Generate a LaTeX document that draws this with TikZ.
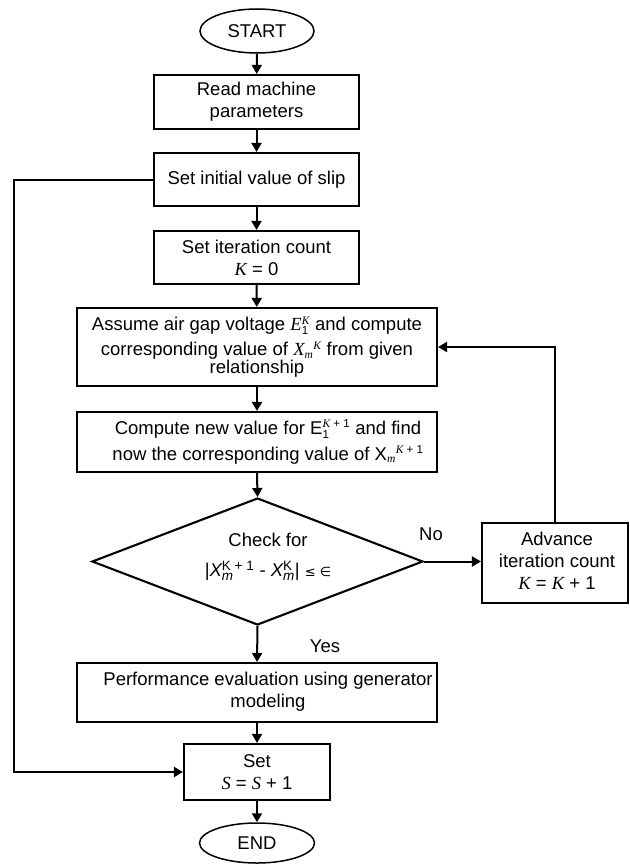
\documentclass[tikz,border=0pt]{standalone}
\usepackage{fontspec}
\setmainfont{Liberation Sans}
\newfontfamily\serf{Liberation Serif}
\newfontfamily\djv{DejaVu Sans}
\usetikzlibrary{shapes.geometric,arrows.meta}
\newcommand{\fsz}{\fontsize{18.5}{22}\selectfont}
\newcommand{\VarK}{{\serf\itshape K}}
\newcommand{\VarS}{{\serf\itshape S}}
\newcommand{\SmallT}[1]{\hbox{\fontsize{11.5}{12}\selectfont #1}}
\newcommand{\MidT}[1]{\hbox{\fontsize{13.5}{14}\selectfont #1}}
\newcommand{\SupSub}[2]{$^{\SmallT{#1}}_{\SmallT{#2}}$}
\newcommand{\SupSubM}[2]{$^{\MidT{#1}}_{\MidT{#2}}$}
\newcommand{\SubOnly}[1]{$_{\SmallT{#1}}$}
\newcommand{\SupOnly}[1]{$^{\SmallT{#1}}$}
\begin{document}
\begin{tikzpicture}[x=1pt,y=-1pt,
  box/.style={draw, rectangle, line width=2.1pt, inner sep=0pt, align=center, font=\fsz},
  term/.style={draw, ellipse, line width=1.5pt, inner sep=0pt, font=\fsz},
  txt/.style={align=center, font=\fsz, inner sep=0pt},
  arr/.style={line width=2pt, -{Triangle[length=9pt,width=10pt]}}]
\path[fill=white] (0,0) rectangle (629,864);
\useasboundingbox (0,0) rectangle (629,864);

\node[term, minimum width=114pt, minimum height=44pt] (start) at (257,31) {START};
\node[box, minimum width=205pt, minimum height=54pt] (read) at (256.5,102) {Read machine\\parameters};
\node[box, minimum width=205pt, minimum height=53pt] (slip) at (256.5,179.5) {Set initial value of slip};
\node[box, minimum width=205pt, minimum height=53pt] (iter) at (256.5,257.5) {Set iteration count\\\VarK{} = 0};
\node[box, minimum width=360pt, minimum height=78pt] (assume) at (257,347)
  {Assume air gap voltage {\serf\itshape E}\SupSub{\VarK}{1} and compute\\[3pt]
   corresponding value of {\serf\itshape X}\SubOnly{\serf\itshape m}\SupOnly{\VarK} from given\\[-4pt]
   relationship};
\node[box, minimum width=360pt, minimum height=60pt] (comp) at (257,442) {};
\node[txt] (comptxt) at (268,442)
  {Compute new value for E\SupSub{\VarK{} + 1}{1} and find\\[4pt]
   now the corresponding value of X\SubOnly{\serf\itshape m}\SupOnly{\VarK{} + 1}};
\node[draw, diamond, aspect=2.6, line width=2.1pt, inner sep=0pt,
      minimum width=331pt, minimum height=127pt] (dia) at (257.5,561.5) {};
\node[txt] (diatxt) at (268,557)
  {Check for\\[8pt]
   |{\itshape X}\SupSubM{K + 1}{\itshape m} - {\itshape X}\SupSubM{K}{\itshape m}| {\djv\fontsize{13}{13}\selectfont ≤ ∈}};
\node[box, minimum width=146pt, minimum height=80pt] (adv) at (555,563) {};
\node[txt] (advtxt) at (557,561) {Advance\\iteration count\\\VarK{} = \VarK{} + 1};
\node[box, minimum width=360pt, minimum height=59pt] (perf) at (257,692.5) {};
\node[txt] (perftxt) at (268,692) {Performance evaluation using generator\\modeling};
\node[box, minimum width=146pt, minimum height=56pt] (sets) at (257,772) {Set\\\VarS{} = \VarS{} + 1};
\node[term, minimum width=115pt, minimum height=40pt] (fin) at (257,843) {END};
\coordinate (lx) at (14,183);

\node[txt] (nolab) at (431,534) {No};
\node[txt] (yeslab) at (325,646) {Yes};

\draw[arr] (start) -- (read);
\draw[arr] (read) -- (slip);
\draw[arr] (slip) -- (iter);
\draw[arr] (iter) -- (assume);
\draw[arr] (assume) -- (comp);
\draw[arr] (comp.south) -- (dia.north);
\draw[arr] (dia.east) -- (dia.east -| adv.west);
\draw[arr] (adv.north) |- (assume.east);
\draw[arr] (dia.south) -- (perf.north);
\draw[arr] (perf) -- (sets);
\draw[arr] (sets) -- (fin);
\draw[arr] (slip.west) -| (lx) |- (sets.west);
\end{tikzpicture}
\end{document}
